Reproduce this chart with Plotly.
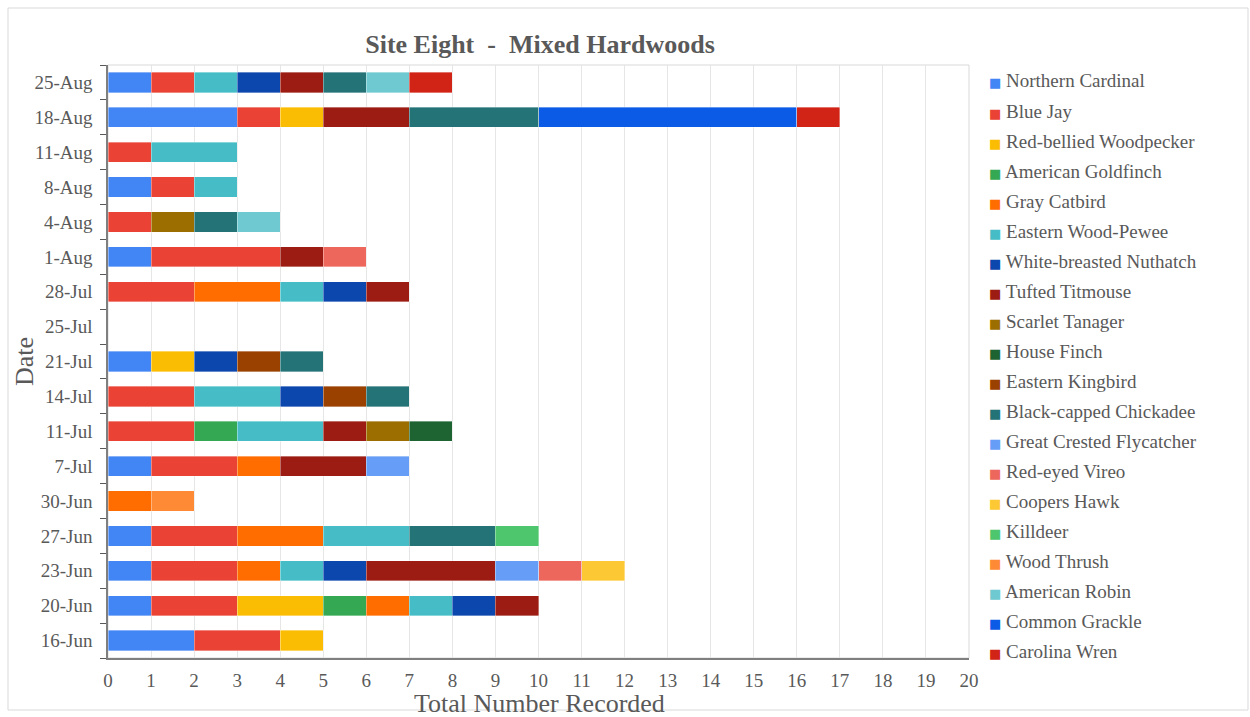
import plotly.graph_objects as go

dates = ["16-Jun", "20-Jun", "23-Jun", "27-Jun", "30-Jun", "7-Jul", "11-Jul", "14-Jul",
         "21-Jul", "25-Jul", "28-Jul", "1-Aug", "4-Aug", "8-Aug", "11-Aug", "18-Aug", "25-Aug"]

northern_cardinal = [2, 1, 1, 1, 0, 1, 0, 0, 1, 0, 0, 1, 0, 1, 0, 3, 1]
blue_jay = [2, 2, 2, 2, 0, 2, 2, 2, 0, 0, 2, 3, 1, 1, 1, 1, 1]
red_bellied_woodpecker = [1, 2, 0, 0, 0, 0, 0, 0, 1, 0, 0, 0, 0, 0, 0, 1, 0]
american_goldfinch = [0, 1, 0, 0, 0, 0, 1, 0, 0, 0, 0, 0, 0, 0, 0, 0, 0]
gray_catbird = [0, 1, 1, 2, 1, 1, 0, 0, 0, 0, 2, 0, 0, 0, 0, 0, 0]
eastern_wood_pewee = [0, 1, 1, 2, 0, 0, 2, 2, 0, 0, 1, 0, 0, 1, 2, 0, 1]
white_breasted_nuthatch = [0, 1, 1, 0, 0, 0, 0, 1, 1, 0, 1, 0, 0, 0, 0, 0, 1]
tufted_titmouse = [0, 1, 3, 0, 0, 2, 1, 0, 0, 0, 1, 1, 0, 0, 0, 2, 1]
scarlet_tanager = [0, 0, 0, 0, 0, 0, 1, 0, 0, 0, 0, 0, 1, 0, 0, 0, 0]
house_finch = [0, 0, 0, 0, 0, 0, 1, 0, 0, 0, 0, 0, 0, 0, 0, 0, 0]
eastern_kingbird = [0, 0, 0, 0, 0, 0, 0, 1, 1, 0, 0, 0, 0, 0, 0, 0, 0]
black_capped_chickadee = [0, 0, 0, 2, 0, 0, 0, 1, 1, 0, 0, 0, 1, 0, 0, 3, 1]
great_crested_flycatcher = [0, 0, 1, 0, 0, 1, 0, 0, 0, 0, 0, 0, 0, 0, 0, 0, 0]
red_eyed_vireo = [0, 0, 1, 0, 0, 0, 0, 0, 0, 0, 0, 1, 0, 0, 0, 0, 0]
coopers_hawk = [0, 0, 1, 0, 0, 0, 0, 0, 0, 0, 0, 0, 0, 0, 0, 0, 0]
killdeer = [0, 0, 0, 1, 0, 0, 0, 0, 0, 0, 0, 0, 0, 0, 0, 0, 0]
wood_thrush = [0, 0, 0, 0, 1, 0, 0, 0, 0, 0, 0, 0, 0, 0, 0, 0, 0]
american_robin = [0, 0, 0, 0, 0, 0, 0, 0, 0, 0, 0, 0, 1, 0, 0, 0, 1]
common_grackle = [0, 0, 0, 0, 0, 0, 0, 0, 0, 0, 0, 0, 0, 0, 0, 6, 0]
carolina_wren = [0, 0, 0, 0, 0, 0, 0, 0, 0, 0, 0, 0, 0, 0, 0, 1, 1]

x_ticks = list(range(0, 21))

series = [
    ("Northern Cardinal", northern_cardinal, "#4285F4"),
    ("Blue Jay", blue_jay, "#EA4335"),
    ("Red-bellied Woodpecker", red_bellied_woodpecker, "#FBBC04"),
    ("American Goldfinch", american_goldfinch, "#34A853"),
    ("Gray Catbird", gray_catbird, "#FF6D01"),
    ("Eastern Wood-Pewee", eastern_wood_pewee, "#46BDC6"),
    ("White-breasted Nuthatch", white_breasted_nuthatch, "#0B47AD"),
    ("Tufted Titmouse", tufted_titmouse, "#9C1B12"),
    ("Scarlet Tanager", scarlet_tanager, "#9C6E00"),
    ("House Finch", house_finch, "#1E6432"),
    ("Eastern Kingbird", eastern_kingbird, "#9A4100"),
    ("Black-capped Chickadee", black_capped_chickadee, "#247377"),
    ("Great Crested Flycatcher", great_crested_flycatcher, "#669DF6"),
    ("Red-eyed Vireo", red_eyed_vireo, "#EE675C"),
    ("Coopers Hawk", coopers_hawk, "#FCC934"),
    ("Killdeer", killdeer, "#4DC66E"),
    ("Wood Thrush", wood_thrush, "#FF8A35"),
    ("American Robin", american_robin, "#6FC9D0"),
    ("Common Grackle", common_grackle, "#0B5BE6"),
    ("Carolina Wren", carolina_wren, "#D12416"),
]

SERIF = "Liberation Serif, Times New Roman, serif"
TEXT = "#595959"

# plotting-area geometry (pixels)
W, H = 1250, 717
L, R, T, B = 108, 281, 65, 59
PW, PH = W - L - R, H - T - B


def px_x(x):
    return (x - L) / PW


def px_y(y):
    return (H - B - y) / PH


fig = go.Figure()
for name, vals, color in series:
    fig.add_trace(go.Bar(
        y=dates,
        x=[v if v else None for v in vals],
        name=name,
        orientation="h",
        marker=dict(color=color, line=dict(color="rgba(255,255,255,0.6)", width=0.6)),
        showlegend=False,
    ))

notes = []
# legend as a column of coloured squares with species names
for i, (name, _, color) in enumerate(series):
    notes.append(dict(
        xref="paper", yref="paper",
        x=px_x(987), y=px_y(81 + i * 30.05),
        xanchor="left", yanchor="middle",
        text=f'<span style="color:{color};font-family:DejaVu Sans;font-size:13px">■</span> {name}',
        showarrow=False,
        font=dict(family=SERIF, size=19, color=TEXT),
    ))

# axis titles
notes.append(dict(
    xref="paper", yref="paper", x=px_x(539), y=px_y(703),
    xanchor="center", yanchor="middle", showarrow=False,
    text="Total Number Recorded", font=dict(family=SERIF, size=26, color=TEXT),
))
notes.append(dict(
    xref="paper", yref="paper", x=px_x(24), y=px_y(362),
    xanchor="center", yanchor="middle", showarrow=False, textangle=-90,
    text="Date", font=dict(family=SERIF, size=26, color=TEXT),
))

fig.update_layout(
    barmode="stack",
    bargap=0.42,
    width=W,
    height=H,
    paper_bgcolor="white",
    plot_bgcolor="white",
    margin=dict(l=L, r=R, t=T, b=B),
    font=dict(family=SERIF, color=TEXT, size=18),
    title=dict(
        text="<b>Site Eight  -  Mixed Hardwoods</b>",
        x=540 / W, xanchor="center",
        y=1 - 44 / H, yanchor="middle",
        font=dict(family=SERIF, size=26, color=TEXT),
    ),
    xaxis=dict(
        range=[0, 20],
        tickvals=x_ticks,
        showgrid=True,
        gridcolor="#E6E6E6",
        gridwidth=1,
        zeroline=False,
        showline=True,
        linecolor="#7F7F7F",
        linewidth=1.5,
        ticks="",
        ticklabelstandoff=4,
        tickfont=dict(size=19, color=TEXT),
        automargin=False,
    ),
    yaxis=dict(
        categoryorder="array",
        categoryarray=dates,
        tickson="boundaries",
        ticks="outside",
        ticklen=6,
        tickcolor="#595959",
        showgrid=False,
        showline=True,
        linecolor="#7F7F7F",
        linewidth=1.5,
        ticklabelstandoff=10,
        tickfont=dict(size=19, color=TEXT),
        automargin=False,
    ),
    showlegend=False,
    annotations=notes,
    shapes=[
        # light frame around the plotting area
        dict(type="rect", xref="paper", yref="paper", x0=0, x1=1, y0=0, y1=1,
             line=dict(color="#D9D9D9", width=1), layer="below"),
        # outer border of the chart
        dict(type="rect", xref="paper", yref="paper",
             x0=px_x(8), x1=px_x(1248), y0=px_y(710), y1=px_y(8),
             line=dict(color="#D9D9D9", width=1)),
    ],
)

fig.write_html("out.html")
